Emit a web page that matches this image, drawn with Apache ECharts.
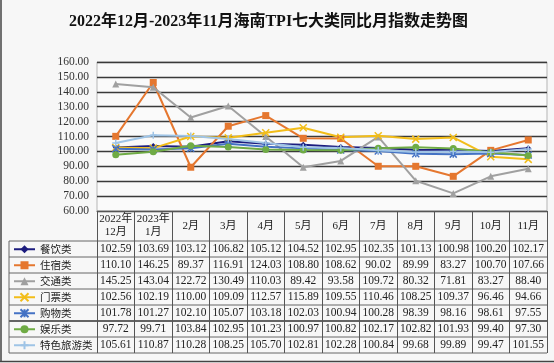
<!DOCTYPE html>
<html><head><meta charset="utf-8">
<script src="https://cdn.jsdelivr.net/npm/echarts@6/dist/echarts.min.js"></script>
<style>html,body{margin:0;padding:0;background:#f7f7f7}#c{width:554px;height:363px}</style>
</head><body><div id="c"></div>
<script>
// ---- data ----
const months = ['2022年\n12月','2023年\n1月','2月','3月','4月','5月','6月','7月','8月','9月','10月','11月'];
const yMin = 60, yMax = 160, yStep = 10;
const seriesNames = ['餐饮类','住宿类','交通类','门票类','购物类','娱乐类','特色旅游类'];
const catering   = [102.59,103.69,103.12,106.82,105.12,104.52,102.95,102.35,101.13,100.98,100.20,102.17];
const lodging    = [110.10,146.25,89.37,116.91,124.03,108.80,108.62,90.02,89.99,83.27,100.70,107.66];
const transport  = [145.25,143.04,122.72,130.49,110.03,89.42,93.58,109.72,80.32,71.81,83.27,88.40];
const tickets    = [102.56,102.19,110.00,109.09,112.57,115.89,109.55,110.46,108.25,109.37,96.46,94.66];
const shopping   = [101.78,101.27,102.10,105.07,103.18,102.03,100.94,100.28,98.39,98.16,98.61,97.55];
const entertain  = [97.72,99.71,103.84,102.95,101.23,100.97,100.82,102.17,102.82,101.93,99.40,97.30];
const specialTour= [105.61,110.87,110.28,108.25,105.70,102.81,102.28,100.84,99.68,99.89,99.47,101.55];
const allValues = [catering,lodging,transport,tickets,shopping,entertain,specialTour];

// ---- styles ----
const colors = ['#1c1c7e','#e5772f','#a0a0a0','#f2bd19','#4472c4','#6fab45','#9fc4e6'];
const symbols = ['diamond','rect','triangle','path://M0,0L10,10M10,0L0,10','path://M0,0L10,10M10,0L0,10M5,0L5,10','circle','path://M5,0L5,10M0,5L10,5'];
const symSizes = [6,7,7,7,7,7,7];

const GL = 97, GT = 62, GW = 450, GH = 149;
const GB = GT + GH;            // 211
const HEADER_H = 30, ROW_H = 16, TABLE_LEFT = 9;
const TABLE_TOP = GB + HEADER_H; // 241
const TABLE_BOTTOM = TABLE_TOP + ROW_H * 7;
const numFont = '"Liberation Serif","Noto Sans CJK SC",serif';

const xAxes = [{
  type:'category', data: months, gridIndex:0, position:'bottom', boundaryGap:true,
  axisLine:{show:true, lineStyle:{color:'#555', width:1}},
  axisTick:{show:true, interval:0, length: TABLE_BOTTOM - GB, lineStyle:{color:'#555', width:1}},
  axisLabel:{interval:0, margin: HEADER_H/2, verticalAlign:'middle', color:'#222', fontSize:11, lineHeight:13, fontFamily:numFont},
  splitLine:{show:false}
}];
allValues.forEach((vals, i) => {
  xAxes.push({
    type:'category', data: months, gridIndex:0, position:'bottom', offset: HEADER_H + ROW_H*i + ROW_H/2,
    axisLine:{show:false}, axisTick:{show:false}, splitLine:{show:false},
    axisLabel:{interval:0, margin:0, verticalAlign:'middle', color:'#222', fontSize:11.5, fontFamily:numFont,
      formatter:(v, idx) => vals[idx].toFixed(2)}
  });
});

const graphics = [];
for (let k = 0; k <= 7; k++) {
  const y = TABLE_TOP + ROW_H*k;
  graphics.push({type:'line', shape:{x1:TABLE_LEFT, y1:y, x2:GL+GW, y2:y},
    style:{stroke: k===5 ? '#333' : '#666', lineWidth: k===5 ? 1.5 : 1}, silent:true});
}
graphics.push({type:'line', shape:{x1:TABLE_LEFT, y1:TABLE_TOP, x2:TABLE_LEFT, y2:TABLE_BOTTOM}, style:{stroke:'#666', lineWidth:1}});
graphics.push({type:'line', shape:{x1:1, y1:0, x2:1, y2:361}, style:{stroke:'#444', lineWidth:1.5}});
graphics.push({type:'line', shape:{x1:0, y1:361.5, x2:554, y2:361.5}, style:{stroke:'#444', lineWidth:1.5}});

const ICON_H = 10;
const legends = seriesNames.map((n, i) => ({
  orient:'horizontal', left: TABLE_LEFT + 4, top: TABLE_TOP + ROW_H*i + (ROW_H - ICON_H)/2,
  padding:0, itemWidth:21, itemHeight:ICON_H, itemGap:0, selectedMode:false, data:[n],
  textStyle:{fontSize:10.5, color:'#222', fontFamily:'"Noto Sans CJK SC",sans-serif'}
}));

const option = {
  backgroundColor:'#f7f7f7',
  animation:false,
  title:{text:'2022年12月-2023年11月海南TPI七大类同比月指数走势图', left:64, top:9,
    textStyle:{fontSize:16, fontWeight:'bold', color:'#111', fontFamily:numFont}},
  grid:{left:GL, top:GT, width:GW, height:GH, show:true, borderColor:'#b5b5b5', borderWidth:1, backgroundColor:'#fafafa'},
  xAxis: xAxes,
  yAxis:{type:'value', min:yMin, max:yMax, interval:yStep,
    axisLine:{show:false}, axisTick:{show:false},
    axisLabel:{formatter:v => v.toFixed(2), color:'#333', fontSize:11.5, fontFamily:numFont, margin:8},
    splitLine:{show:true, lineStyle:{color:'#3a3a3a', width:1.4}}},
  legend: legends,
  graphic: graphics,
  series: seriesNames.map((n, i) => ({
    name:n, type:'line', data: allValues[i], xAxisIndex:0, yAxisIndex:0,
    symbol: symbols[i], symbolSize: symSizes[i], showAllSymbol:true,
    lineStyle:{color:colors[i], width:2},
    itemStyle:{color:colors[i], borderColor:colors[i], borderWidth: symbols[i].startsWith('path') ? 1.5 : 0}
  }))
};
const chart = echarts.init(document.getElementById('c'), null, {renderer:'canvas'});
chart.setOption(option);
</script></body></html>
